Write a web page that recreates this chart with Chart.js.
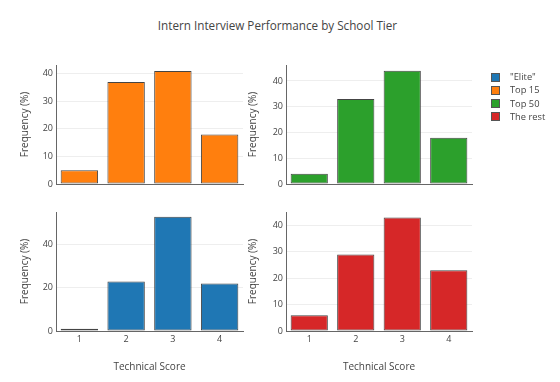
<!DOCTYPE html>
<html>
<head>
<meta charset="utf-8">
<script src="https://cdn.jsdelivr.net/npm/chart.js@4"></script>
<style>
  html, body { margin:0; padding:0; background:#fff; }
  #wrap { position:relative; width:560px; height:382px; overflow:hidden; font-family:"Open Sans", sans-serif; color:#444; }
  canvas.panel { position:absolute; left:0; top:0; }
  #title { position:absolute; left:0; width:555px; top:16px; text-align:center; font-size:11.7px; line-height:18px; color:#444; white-space:nowrap; }
  #legend { position:absolute; left:490px; top:70px; font-size:9.3px; color:#444; }
  .li { position:relative; height:13.3px; line-height:13.3px; white-space:nowrap; }
  .sw { position:absolute; left:1px; top:2.5px; width:7px; height:7px; border:1px solid #555; }
  .lt { position:absolute; left:20px; top:0; }
</style>
</head>
<body>
<div id="wrap">
  <div id="title">Intern Interview Performance by School Tier</div>
  <canvas class="panel" id="c0" width="560" height="382"></canvas>
  <canvas class="panel" id="c1" width="560" height="382"></canvas>
  <canvas class="panel" id="c2" width="560" height="382"></canvas>
  <canvas class="panel" id="c3" width="560" height="382"></canvas>
  <div id="legend"></div>
</div>
<script>
// ---- data ----
const categories = ['1', '2', '3', '4'];
const eliteValues = [1, 23, 53, 22];
const top15Values = [5, 37, 41, 18];
const top50Values = [4, 33, 44, 18];
const restValues  = [6, 29, 43, 23];
const seriesNames = ['"Elite"', 'Top 15', 'Top 50', 'The rest'];
const seriesColors = ['#1f77b4', '#ff7f0e', '#2ca02c', '#d62728'];
const yAxisTitle = 'Frequency (%)';
const xAxisTitle = 'Technical Score';

// ---- panels (layout) ----
const panels = [
  { id:'c0', values: top15Values, color: seriesColors[1], l:56,  r:243, t:65,  b:184, showX:false, yMax:43.2, step:10, titlePad:2.7 },
  { id:'c1', values: top50Values, color: seriesColors[2], l:286, r:472, t:65,  b:184, showX:false, yMax:46.2, step:10, titlePad:0.7 },
  { id:'c2', values: eliteValues, color: seriesColors[0], l:56,  r:243, t:212, b:331, showX:true,  yMax:55.2, step:20, titlePad:2.7 },
  { id:'c3', values: restValues,  color: seriesColors[3], l:286, r:472, t:212, b:331, showX:true,  yMax:45.1, step:10, titlePad:0.7 }
];

const W = 560, H = 382, YW = 40, XH = 45;
const font = "'Open Sans', sans-serif";

panels.forEach(p => {
  const xh = p.showX ? XH : 0;
  new Chart(document.getElementById(p.id), {
    type: 'bar',
    data: {
      labels: categories,
      datasets: [{
        data: p.values,
        backgroundColor: p.color,
        borderColor: '#444',
        borderWidth: 1,
        borderSkipped: false,
        barPercentage: 0.8,
        categoryPercentage: 1.0
      }]
    },
    options: {
      responsive: false,
      animation: false,
      events: [],
      layout: { padding: { left: p.l - YW, right: W - p.r, top: p.t, bottom: H - p.b - xh } },
      plugins: { legend: { display:false }, tooltip: { enabled:false }, title: { display:false } },
      scales: {
        x: {
          type: 'category',
          offset: true,
          grid: { display:false, drawTicks:false },
          border: { display:true, color:'#666', width:1 },
          ticks: { display: p.showX, color:'#444', font:{ family: font, size: 9 }, padding: 3, maxRotation:0 },
          title: { display: p.showX, text: xAxisTitle, color:'#444', font:{ family: font, size: 10 }, padding:{ top:0, bottom:3 } },
          afterFit: s => { s.height = xh; }
        },
        y: {
          min: 0, max: p.yMax,
          grid: { color:'#eee', lineWidth:1, drawTicks:false },
          border: { display:true, color:'#666', width:1 },
          ticks: { stepSize: p.step, autoSkip:false, color:'#444', font:{ family: font, size: 9 }, padding: 3 },
          afterBuildTicks: s => {
            const t = [];
            for (let v = 0; v <= p.yMax; v += p.step) t.push({ value: v });
            s.ticks = t;
          },
          title: { display:true, text: yAxisTitle, color:'#444', font:{ family: font, size: 10 }, padding:{ top:p.titlePad, bottom:0 } },
          afterFit: s => { s.width = YW; }
        }
      }
    }
  });
});

// legend
const lg = document.getElementById('legend');
seriesNames.forEach((n, i) => {
  const d = document.createElement('div');
  d.className = 'li';
  d.innerHTML = '<span class="sw" style="background:' + seriesColors[i] + '"></span><span class="lt"></span>';
  d.querySelector('.lt').textContent = n;
  lg.appendChild(d);
});
</script>
</body>
</html>
